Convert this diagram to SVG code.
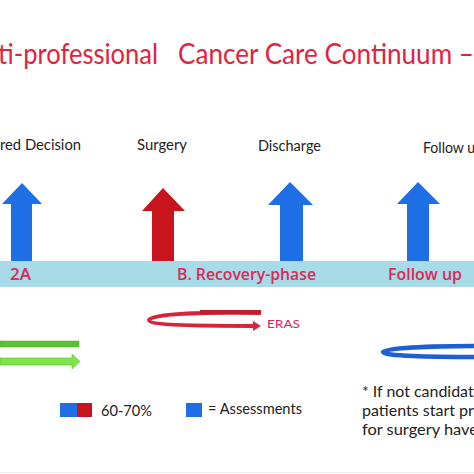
<svg xmlns="http://www.w3.org/2000/svg" width="474" height="474" viewBox="0 0 474 474">
<style>
.title{font-family:Lato,"Open Sans",sans-serif;font-size:28px;fill:#e0243f}
.lbl{font-family:Lato,"Open Sans",sans-serif;font-size:15.5px;fill:#222}
.bar{font-family:"Open Sans",Lato,sans-serif;font-size:16px;font-weight:600;fill:#d82a58}
.leg{font-family:Lato,"Open Sans",sans-serif;font-size:15px;fill:#222}
.blue{fill:#1e6fe6}
.red{fill:#c8141c}
</style>
<rect width="474" height="474" fill="#fff"/>
<g id="title">
<text class="title" x="-2" y="64" textLength="160" lengthAdjust="spacingAndGlyphs">ti-professional</text>
<text class="title" x="178" y="64" textLength="296" lengthAdjust="spacingAndGlyphs">Cancer Care Continuum –</text>
</g>
<g id="labels">
<text class="lbl" x="0" y="150" textLength="81" lengthAdjust="spacingAndGlyphs">red Decision</text>
<text class="lbl" x="137" y="150" textLength="50" lengthAdjust="spacingAndGlyphs">Surgery</text>
<text class="lbl" x="258" y="151" textLength="63" lengthAdjust="spacingAndGlyphs">Discharge</text>
<text class="lbl" x="423" y="153" textLength="60" lengthAdjust="spacingAndGlyphs">Follow up</text>
</g>
<g id="timeline">
<rect x="0" y="261" width="474" height="26" fill="#a7dbe7"/>
<text class="bar" x="10" y="280" textLength="21" lengthAdjust="spacingAndGlyphs">2A</text>
<text class="bar" x="177" y="280" textLength="139" lengthAdjust="spacingAndGlyphs">B. Recovery-phase</text>
<text class="bar" x="388" y="280" textLength="74" lengthAdjust="spacingAndGlyphs">Follow up</text>
</g>
<g id="connectors">
<polygon id="arrow-decision" class="blue" points="11,261 11,204 2,204 22,183 42,204 32,204 32,261"/>
<polygon id="arrow-surgery" class="red" points="152,261 152,211 142,211 163,188 185,211 174,211 174,261"/>
<polygon id="arrow-discharge" class="blue" points="280,261 280,205 268,205 290,182 313,205 303,205 303,261"/>
<polygon id="arrow-followup" class="blue" points="407,261 407,204 397,204 418,182 440,204 429,204 429,261"/>
<g id="green-arrows">
<rect x="0" y="341" width="79" height="6" fill="#5cc233" stroke="#4aa82a" stroke-width="0.5"/>
<polygon points="0,358 72,358 72,354 80,361.5 72,369 72,365 0,365" fill="#7fe34a" stroke="#5cbf33" stroke-width="0.6"/>
</g>
<g id="eras-loop">
<path d="M261,313 C200,312 150,314 149,320 C149,325 195,326 254,326" fill="none" stroke="#d8243a" stroke-width="4"/>
<path d="M261,312 L200,312" stroke="#c41c2e" stroke-width="4"/>
<polygon points="253,321 261,326 253,331" fill="#d8243a"/>
</g>
<g id="blue-loop">
<path d="M480,346 C430,346 384,348 383,352 C383,356 430,357 480,357" fill="none" stroke="#1e5fd6" stroke-width="4.5"/>
</g>
</g>
<g id="eras-label">
<text x="267" y="328" font-family="Lato,'Open Sans',sans-serif" font-size="12" fill="#d8265a" textLength="33" lengthAdjust="spacingAndGlyphs">ERAS</text>
</g>
<g id="legend">
<rect x="60" y="403" width="17" height="14" fill="#1e6fe6"/>
<rect x="77" y="403" width="15" height="14" fill="#c8141c"/>
<text class="leg" x="101" y="416" textLength="51" lengthAdjust="spacingAndGlyphs">60-70%</text>
<rect x="186" y="403" width="16" height="14" fill="#1e6fe6"/>
<text class="leg" x="208" y="414" textLength="94" lengthAdjust="spacingAndGlyphs">= Assessments</text>
</g>
<g id="note">
<text class="leg" x="362" y="397" textLength="120" lengthAdjust="spacingAndGlyphs">* If not candidate</text>
<text class="leg" x="362" y="416" textLength="120" lengthAdjust="spacingAndGlyphs">patients start pre</text>
<text class="leg" x="362" y="435" textLength="116" lengthAdjust="spacingAndGlyphs">for surgery have</text>
</g>
<line x1="0" y1="472.5" x2="474" y2="472.5" stroke="#ececec" stroke-width="1"/>
</svg>
